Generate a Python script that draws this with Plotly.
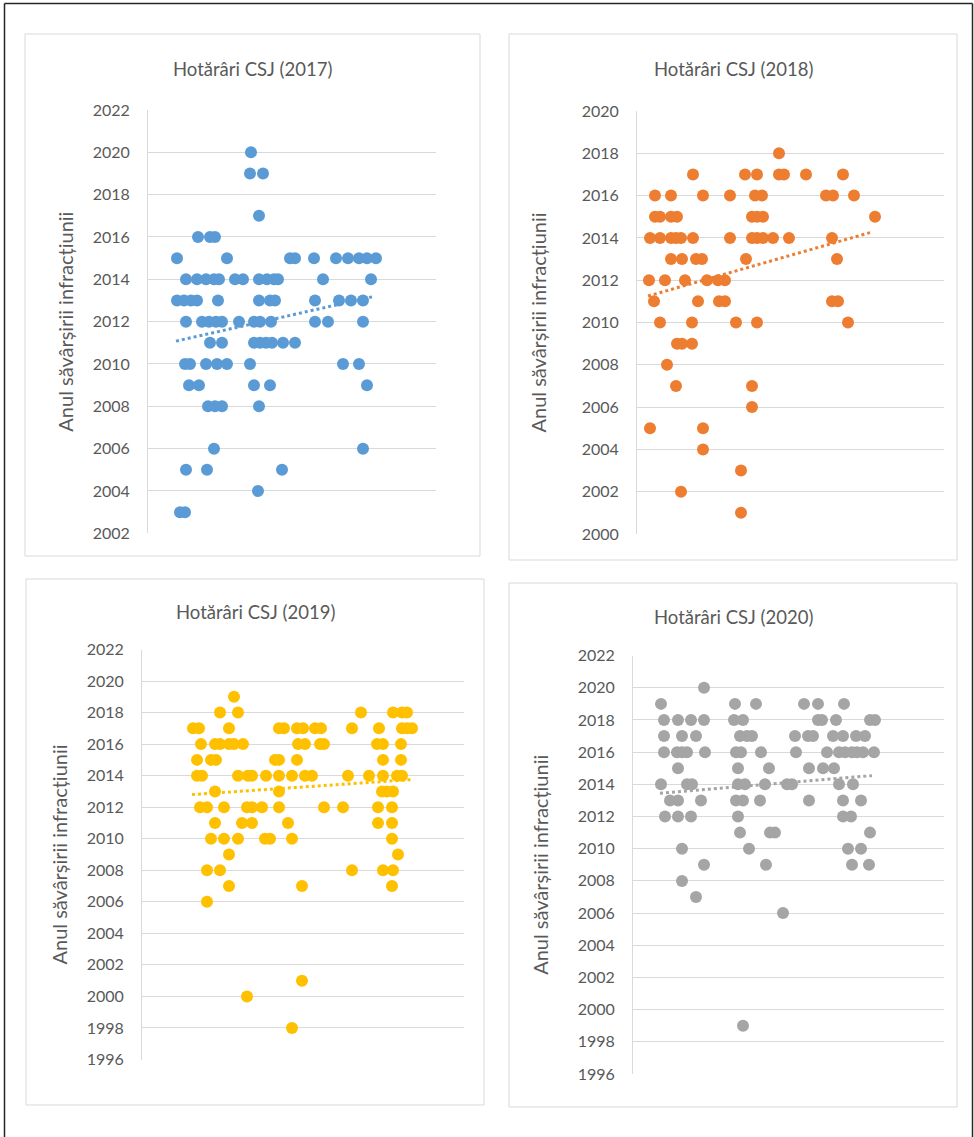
import plotly.graph_objects as go

W, H = 974, 1137

# ---------------- data (x = case position along hidden axis, y = year) ----------------
x_2017 = [103, 102, 115, 111, 50, 62, 67,
          29, 79, 142, 147, 166, 188, 200, 211, 219, 228,
          38, 49, 58, 66, 71, 87, 95, 111, 119, 126, 130, 175, 223,
          29, 36, 43, 49, 70, 111, 122, 127, 167, 191, 203, 215,
          38, 54, 61, 68, 74, 91, 106, 112, 123, 167, 180, 215,
          62, 74, 106, 112, 118, 124, 135, 147,
          37, 42, 58, 69, 79, 102, 195, 211,
          41, 51, 106, 122, 219,
          60, 67, 74, 111,
          66, 215,
          38, 59, 134,
          110,
          32, 37]
y_2017 = [2020, 2019, 2019, 2017, 2016, 2016, 2016,
          2015, 2015, 2015, 2015, 2015, 2015, 2015, 2015, 2015, 2015,
          2014, 2014, 2014, 2014, 2014, 2014, 2014, 2014, 2014, 2014, 2014, 2014, 2014,
          2013, 2013, 2013, 2013, 2013, 2013, 2013, 2013, 2013, 2013, 2013, 2013,
          2012, 2012, 2012, 2012, 2012, 2012, 2012, 2012, 2012, 2012, 2012, 2012,
          2011, 2011, 2011, 2011, 2011, 2011, 2011, 2011,
          2010, 2010, 2010, 2010, 2010, 2010, 2010, 2010,
          2009, 2009, 2009, 2009, 2009,
          2008, 2008, 2008, 2008,
          2006, 2006,
          2005, 2005, 2005,
          2004,
          2003, 2003]

x_2018 = [142,
          56, 108, 120, 142, 147, 169, 206,
          18, 34, 66, 93, 118, 125, 189, 196, 217,
          18, 23, 34, 40, 115, 120, 126, 238,
          13, 23, 34, 39, 44, 56, 93, 115, 120, 126, 136, 152, 195,
          34, 45, 59, 65, 109, 200,
          12, 28, 48, 70, 81, 88,
          17, 61, 82, 88, 195, 201,
          23, 55, 99, 120, 211,
          40, 45, 55,
          30,
          39, 115,
          115,
          13, 66,
          66,
          104,
          44,
          104]
y_2018 = [2018,
          2017, 2017, 2017, 2017, 2017, 2017, 2017,
          2016, 2016, 2016, 2016, 2016, 2016, 2016, 2016, 2016,
          2015, 2015, 2015, 2015, 2015, 2015, 2015, 2015,
          2014, 2014, 2014, 2014, 2014, 2014, 2014, 2014, 2014, 2014, 2014, 2014, 2014,
          2013, 2013, 2013, 2013, 2013, 2013,
          2012, 2012, 2012, 2012, 2012, 2012,
          2011, 2011, 2011, 2011, 2011, 2011,
          2010, 2010, 2010, 2010, 2010,
          2009, 2009, 2009,
          2008,
          2007, 2007,
          2006,
          2005, 2005,
          2004,
          2003,
          2002,
          2001]

x_2019 = [92,
          78, 96, 219, 251, 260, 265,
          51, 57, 87, 137, 142, 155, 161, 173, 179, 210, 237, 260, 265, 270,
          59, 73, 78, 87, 92, 101, 156, 163, 178, 182, 235, 241, 259,
          55, 69, 74, 133, 137, 155, 241, 259,
          55, 60, 96, 106, 110, 124, 137, 150, 163, 170, 206, 227, 241, 255, 260,
          73, 137, 240, 245, 251,
          58, 65, 82, 105, 110, 120, 137, 182, 201, 236, 250,
          73, 100, 110, 146, 236, 250,
          69, 82, 96, 123, 128, 150, 250,
          87, 256,
          65, 78, 210, 241, 251,
          87, 160, 250,
          65,
          160,
          105,
          150]
y_2019 = [2019,
          2018, 2018, 2018, 2018, 2018, 2018,
          2017, 2017, 2017, 2017, 2017, 2017, 2017, 2017, 2017, 2017, 2017, 2017, 2017, 2017,
          2016, 2016, 2016, 2016, 2016, 2016, 2016, 2016, 2016, 2016, 2016, 2016, 2016,
          2015, 2015, 2015, 2015, 2015, 2015, 2015, 2015,
          2014, 2014, 2014, 2014, 2014, 2014, 2014, 2014, 2014, 2014, 2014, 2014, 2014, 2014, 2014,
          2013, 2013, 2013, 2013, 2013,
          2012, 2012, 2012, 2012, 2012, 2012, 2012, 2012, 2012, 2012, 2012,
          2011, 2011, 2011, 2011, 2011, 2011,
          2010, 2010, 2010, 2010, 2010, 2010, 2010,
          2009, 2009,
          2008, 2008, 2008, 2008, 2008,
          2007, 2007, 2007,
          2006,
          2001,
          2000,
          1998]

x_2020 = [71,
          28, 102, 123, 171, 185, 211,
          31, 45, 58, 71, 101, 110, 185, 189, 203, 237, 242,
          31, 49, 63, 107, 114, 119, 162, 175, 180, 200, 210, 223, 232,
          31, 44, 49, 54, 72, 103, 108, 128, 163, 194, 206, 212, 219, 224, 230, 241,
          45, 105, 136, 176, 190, 201,
          28, 54, 59, 105, 112, 132, 154, 159, 206, 220,
          37, 45, 68, 103, 110, 127, 176, 210, 228,
          32, 45, 58, 105, 210, 218,
          107, 137, 142, 237,
          49, 116, 215, 228,
          71, 133, 219, 236,
          49,
          63,
          150,
          110]
y_2020 = [2020,
          2019, 2019, 2019, 2019, 2019, 2019,
          2018, 2018, 2018, 2018, 2018, 2018, 2018, 2018, 2018, 2018, 2018,
          2017, 2017, 2017, 2017, 2017, 2017, 2017, 2017, 2017, 2017, 2017, 2017, 2017,
          2016, 2016, 2016, 2016, 2016, 2016, 2016, 2016, 2016, 2016, 2016, 2016, 2016, 2016, 2016, 2016,
          2015, 2015, 2015, 2015, 2015, 2015,
          2014, 2014, 2014, 2014, 2014, 2014, 2014, 2014, 2014, 2014,
          2013, 2013, 2013, 2013, 2013, 2013, 2013, 2013, 2013,
          2012, 2012, 2012, 2012, 2012, 2012,
          2011, 2011, 2011, 2011,
          2010, 2010, 2010, 2010,
          2009, 2009, 2009, 2009,
          2008,
          2007,
          2006,
          1999]

# linear trendlines: (start, end) on each axis
trend_x_2017 = [28, 224]
trend_y_2017 = [2011.08, 2013.17]
trend_x_2018 = [11, 233]
trend_y_2018 = [2011.25, 2014.25]
trend_x_2019 = [50, 269]
trend_y_2019 = [2012.8, 2013.75]
trend_x_2020 = [27, 239]
trend_y_2020 = [2013.45, 2014.54]

titles = ["Hotărâri CSJ (2017)", "Hotărâri CSJ (2018)", "Hotărâri CSJ (2019)", "Hotărâri CSJ (2020)"]
y_title = "Anul săvârșirii infracțiunii"
colors = ["#5B9BD5", "#ED7D31", "#FFC000", "#A5A5A5"]
y_ranges = [(2002, 2022), (2000, 2020), (1996, 2022), (1996, 2022)]
x_ranges = [(0, 288), (0, 307), (0, 322), (0, 311)]

# ---------------- layout geometry (pixels) ----------------
plot_px = [  # left, right, top, bottom of plot area
    (148, 436, 110, 533.3),
    (637, 944, 111, 534),
    (142, 464, 649.5, 1059.5),
    (633, 944, 655.6, 1074),
]
box_px = [  # panel box: left, right, top, bottom
    (25, 480, 34, 556),
    (509, 957, 34, 560),
    (26, 484, 579, 1105),
    (509, 957, 583, 1107),
]
title_y_px = [69, 69, 612, 617]
ytitle_x_px = [65, 537, 58, 540]

def px2x(p):
    return p / W

def px2y(p):
    return 1 - p / H

series = [(x_2017, y_2017), (x_2018, y_2018), (x_2019, y_2019), (x_2020, y_2020)]
trends = [(trend_x_2017, trend_y_2017), (trend_x_2018, trend_y_2018),
          (trend_x_2019, trend_y_2019), (trend_x_2020, trend_y_2020)]

fig = go.Figure()
layout = dict(
    width=W, height=H, autosize=False,
    margin=dict(l=0, r=0, t=0, b=0, pad=0, autoexpand=False),
    paper_bgcolor="white", plot_bgcolor="white",
    showlegend=False,
    font=dict(family="Lato, Carlito, Calibri, sans-serif", color="#595959"),
)
shapes = []
annotations = []

for i, ((xs, ys), (tx, ty), col) in enumerate(zip(series, trends, colors)):
    n = "" if i == 0 else str(i + 1)
    xa, ya = "x" + n, "y" + n
    fig.add_trace(go.Scatter(
        x=tx, y=ty, mode="lines", xaxis=xa, yaxis=ya,
        line=dict(color=col, width=3, dash="dot"), hoverinfo="skip",
    ))
    fig.add_trace(go.Scatter(
        x=xs, y=ys, mode="markers", xaxis=xa, yaxis=ya,
        marker=dict(size=12, color=col, line=dict(width=0)),
        hoverinfo="x+y",
    ))
    l, r, t, btm = plot_px[i]
    layout["xaxis" + n] = dict(
        domain=[px2x(l), px2x(r)], range=list(x_ranges[i]), anchor=ya,
        visible=False, fixedrange=True, automargin=False,
    )
    layout["yaxis" + n] = dict(
        domain=[px2y(btm), px2y(t)], range=list(y_ranges[i]), anchor=xa,
        dtick=2, tick0=y_ranges[i][0], automargin=False,
        showgrid=True, gridcolor="#D9D9D9", gridwidth=1,
        showline=True, linecolor="#D9D9D9", linewidth=1,
        zeroline=False, ticks="", ticklabelstandoff=14,
        tickfont=dict(size=16, color="#595959"),
        fixedrange=True,
    )
    bl, br, bt, bb = box_px[i]
    shapes.append(dict(type="rect", xref="paper", yref="paper",
                       x0=px2x(bl), x1=px2x(br), y0=px2y(bb), y1=px2y(bt),
                       line=dict(color="#D9D9D9", width=1), layer="below"))
    annotations.append(dict(text=titles[i], xref="paper", yref="paper",
                            x=px2x((bl + br) / 2), y=px2y(title_y_px[i]),
                            xanchor="center", yanchor="middle", showarrow=False,
                            font=dict(size=18.5, color="#595959")))
    annotations.append(dict(text=y_title, xref="paper", yref="paper",
                            x=px2x(ytitle_x_px[i]), y=px2y((t + btm) / 2),
                            xanchor="center", yanchor="middle", showarrow=False,
                            textangle=-90, font=dict(size=20, color="#595959")))

# outer frame (left, top, right)
for x0, y0, x1, y1 in [(4.5, 3.5, 4.5, H), (4.5, 3.5, 972.5, 3.5), (972.5, 3.5, 972.5, H)]:
    shapes.append(dict(type="line", xref="paper", yref="paper",
                       x0=px2x(x0), y0=px2y(y0), x1=px2x(x1), y1=px2y(y1),
                       line=dict(color="#262626", width=1.5)))

layout["shapes"] = shapes
layout["annotations"] = annotations
fig.update_layout(**layout)

post_js = ("document.body.style.margin='0';document.body.style.padding='0';"
           "document.body.style.overflow='hidden';"
           "document.documentElement.style.overflow='hidden';")
fig.write_html("out.html", post_script=post_js, config={"displayModeBar": False})
